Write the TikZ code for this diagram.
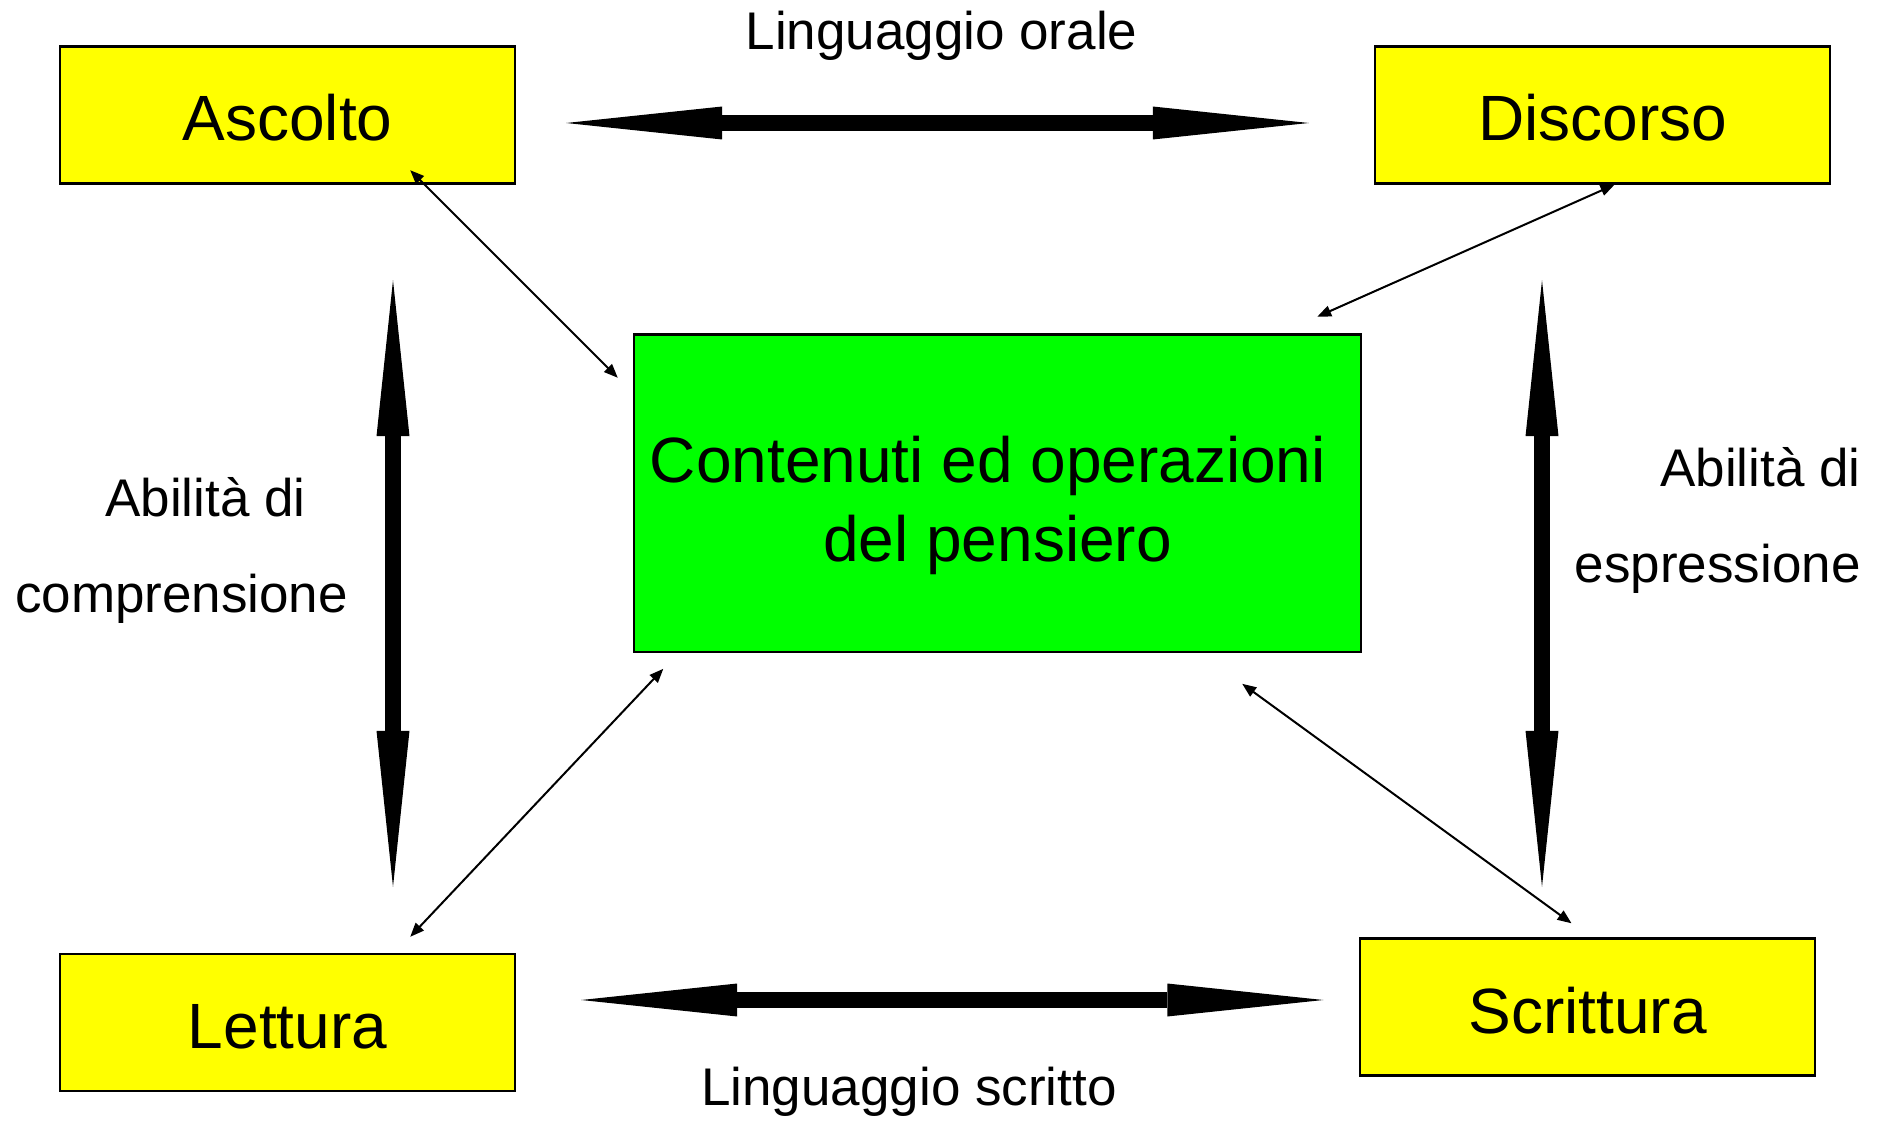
\documentclass[tikz,border=0pt]{standalone}
\usepackage{fontspec}
\setmainfont{Liberation Sans}
\usepackage{xcolor}
\usetikzlibrary{arrows.meta,calc}
\definecolor{boxyellow}{RGB}{255,255,0}
\definecolor{coregreen}{RGB}{0,255,0}
\tikzset{
  box/.style={draw, line width=1.2pt, fill=boxyellow, minimum width=227.5pt, minimum height=68.5pt, inner sep=0pt, text height=26pt, text depth=0pt, font=\fontsize{32}{38}\selectfont},
  core/.style={draw, line width=1.2pt, fill=coregreen, minimum width=363.5pt, minimum height=158.75pt},
  coretext/.style={align=center, inner sep=0pt, font=\fontsize{32}{39.5}\selectfont},
  lbl/.style={anchor=base, inner sep=0pt, font=\fontsize{26.5}{30}\selectfont},
  bigarrow/.style={line width=8pt, {Triangle[length=78pt,width=16.5pt,line width=0pt]}-{Triangle[length=78pt,width=16.5pt,line width=0pt]}},
  link/.style={line width=1pt, {Triangle[length=7pt,width=5.5pt]}-{Triangle[length=7pt,width=5.5pt]}},
}
\begin{document}
\begin{tikzpicture}[x=0.5pt,y=-0.5pt]
    \useasboundingbox (0,0) rectangle (1885,1122);
    % the four skills
    \node[box] (asc) at (287.5,115) {Ascolto};
    \node[box] (disc) at (1602.5,115) {Discorso};
    \node[box] (let) at (287.5,1022.5) {Lettura};
    \node[box] (scr) at (1587.5,1007) {Scrittura};
    \node[core] (core) at (997.5,493.25) {};
    \node[coretext, yshift=-6pt] (coretxt) at (core.center) {Contenuti ed operazioni\hspace*{0.3em}\\del pensiero};

    % thick arrows between the skills
    \draw[bigarrow, shorten <=25pt, shorten >=32.5pt] ([yshift=-4pt]asc.east) -- ([yshift=-4pt]disc.west);
    \draw[bigarrow, shorten <=32.5pt, shorten >=17.75pt] ([yshift=11.25pt]let.east) -- ([yshift=11.25pt]let.east -| scr.west);
    \draw[bigarrow, shorten <=47.75pt, shorten >=33pt] ([xshift=52.75pt]asc.south) -- ([xshift=52.75pt]let.north);
    \draw[bigarrow, shorten <=47.75pt, shorten >=25.25pt] ([xshift=-30.25pt]disc.south) -- ([xshift=-30.25pt]disc.south |- scr.north);

    % thin arrows to the centre
    \draw[link] ($(asc.south east)+(-106,-14.5)$) -- ($(core.north west)+(-15,44.5)$);
    \draw[link] ($(disc.south)+(12,0)$) -- ($(core.north east)+(-45,-16.5)$);
    \draw[link] ($(let.north east)+(-106,-16)$) -- ($(core.south west)+(30.5,15.6)$);
    \draw[link] ($(core.south east)+(-120,30.6)$) -- ($(scr.north)+(-16,-14)$);

    % labels
    \node[lbl] (oral) at (941.5,50) {Linguaggio orale};
    \node[lbl] (scritto) at (909,1105) {Linguaggio scritto};
    \node[lbl] (compA) at (205.5,517) {Abilità di};
    \node[lbl] (compB) at (181.5,613) {comprensione};
    \node[lbl, anchor=base east] (esprA) at (1861,487) {Abilità di};
    \node[lbl, anchor=base east] (esprB) at (1861,582.5) {espressione};
\end{tikzpicture}
\end{document}
